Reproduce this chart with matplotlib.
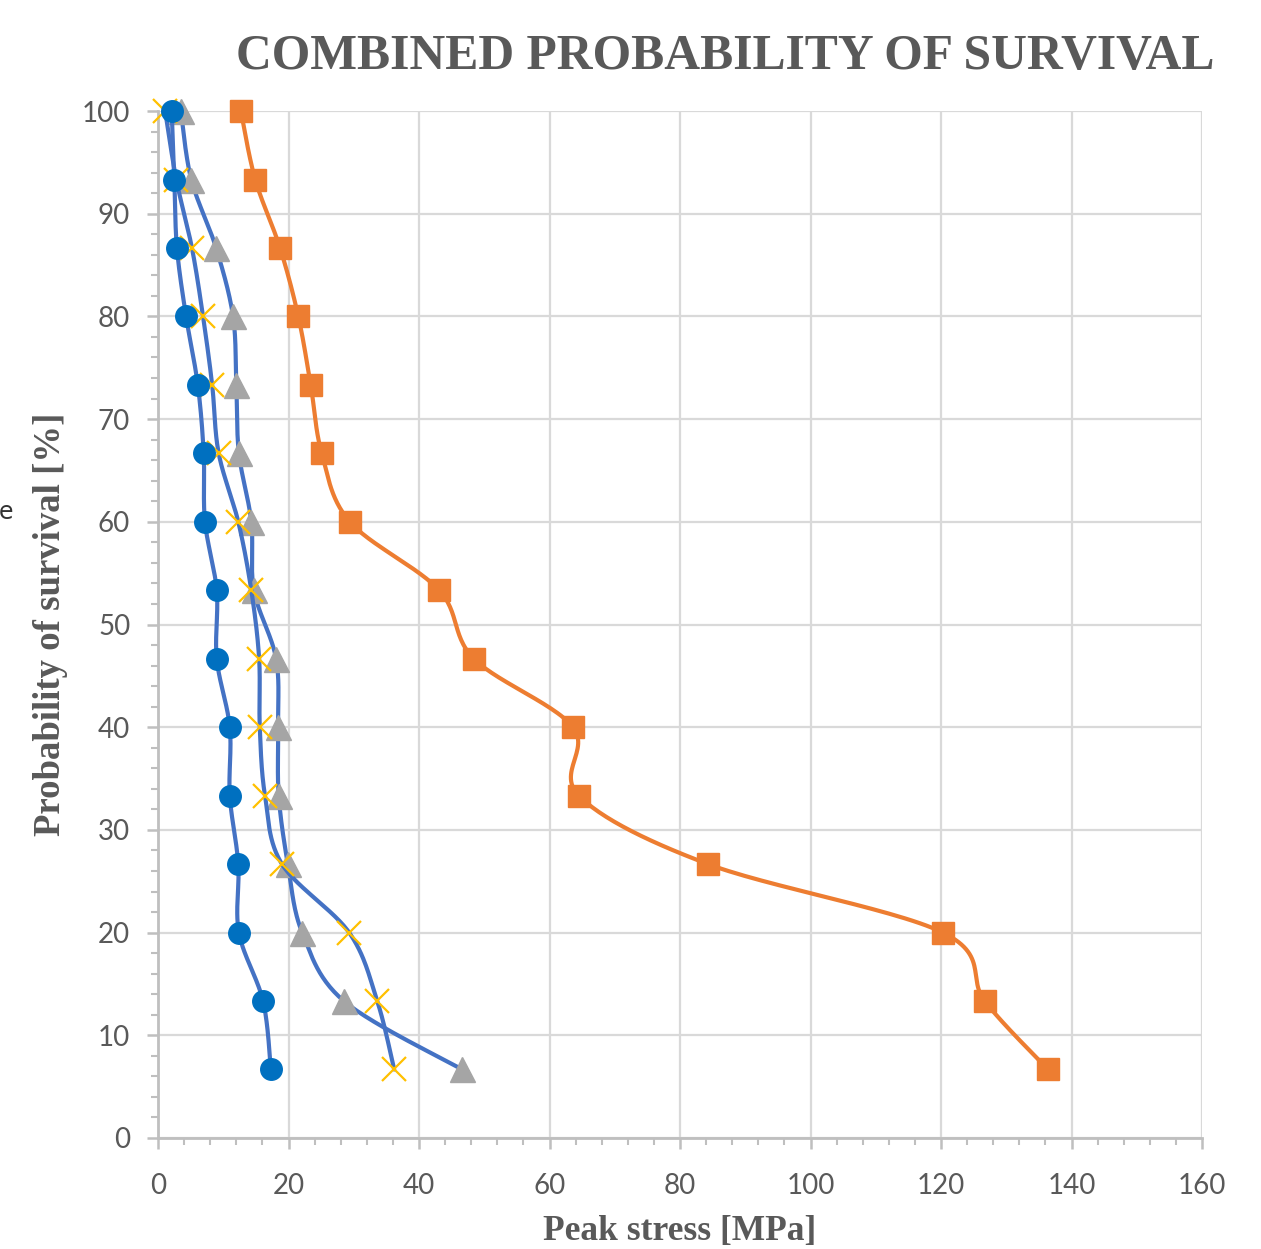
import numpy as np
import matplotlib
matplotlib.use("Agg")
import matplotlib.pyplot as plt
from matplotlib.ticker import MultipleLocator

# ---- data ----
survival = [100, 93.33, 86.67, 80, 73.33, 66.67, 60, 53.33, 46.67, 40, 33.33, 26.67, 20, 13.33, 6.67]
stress_orange = [12.7, 14.9, 18.7, 21.5, 23.4, 25.1, 29.4, 43.1, 48.4, 63.6, 64.5, 84.3, 120.3, 126.7, 136.4]
stress_circle = [2.1, 2.5, 2.9, 4.3, 6.1, 7.0, 7.2, 9.0, 9.0, 11.0, 11.0, 12.3, 12.4, 16.1, 17.3]
stress_triangle = [3.5, 5.1, 8.9, 11.5, 12.0, 12.4, 14.3, 14.7, 18.1, 18.4, 18.5, 19.9, 22.1, 28.5, 46.6]
stress_cross = [1.1, 2.8, 5.2, 6.9, 8.3, 9.3, 12.3, 14.3, 15.5, 15.6, 16.4, 19.0, 29.3, 33.6, 36.2]
x_ticks = [0, 20, 40, 60, 80, 100, 120, 140, 160]
y_ticks = [0, 10, 20, 30, 40, 50, 60, 70, 80, 90, 100]

title = "COMBINED PROBABILITY OF SURVIVAL"
xlabel = "Peak stress [MPa]"
ylabel = "Probability of survival [%]"

W, H = 1261, 1249
fig = plt.figure(figsize=(W / 100, H / 100), dpi=100)
ax = fig.add_axes([158 / W, 1 - 1138 / H, (1202 - 158) / W, (1138 - 111) / H])
ax.set_xlim(0, 160)
ax.set_ylim(0, 100)

grid_c = "#D9D9D9"
axis_c = "#BFBFBF"
text_c = "#595959"


def smooth(xs, ys, n=30):
    pts = ax.transData.transform(np.column_stack([xs, ys]))
    P = np.vstack([pts[0], pts, pts[-1]])
    out = []
    for i in range(1, len(P) - 2):
        p0, p1, p2, p3 = P[i - 1], P[i], P[i + 1], P[i + 2]
        c1 = p1 + (p2 - p0) / 6.0
        c2 = p2 - (p3 - p1) / 6.0
        t = np.linspace(0, 1, n)[:, None]
        seg = ((1 - t) ** 3) * p1 + 3 * ((1 - t) ** 2) * t * c1 + 3 * (1 - t) * t ** 2 * c2 + t ** 3 * p2
        out.append(seg if i == 1 else seg[1:])
    out = np.vstack(out)
    d = ax.transData.inverted().transform(out)
    return d[:, 0], d[:, 1]


line_blue = "#4472C4"
lw = 3.0

# orange
sx, sy = smooth(stress_orange, survival)
ax.plot(sx, sy, color="#ED7D31", lw=lw, zorder=3, solid_capstyle="round", clip_on=False)
ax.plot(stress_orange, survival, ls="none", marker="s", ms=16.5, color="#ED7D31", zorder=4,
        clip_on=False)

# triangles
sx, sy = smooth(stress_triangle, survival)
ax.plot(sx, sy, color=line_blue, lw=lw, zorder=5, solid_capstyle="round", clip_on=False)
ax.plot(stress_triangle, survival, ls="none", marker="^", ms=18, color="#A5A5A5", zorder=6,
        clip_on=False)

# crosses
sx, sy = smooth(stress_cross, survival)
ax.plot(sx, sy, color=line_blue, lw=lw, zorder=7, solid_capstyle="round", clip_on=False)
ax.plot(stress_cross, survival, ls="none", marker="x", ms=17, mew=1.6, color="#FFC000", zorder=8,
        clip_on=False)

# circles
sx, sy = smooth(stress_circle, survival)
ax.plot(sx, sy, color=line_blue, lw=lw, zorder=9, solid_capstyle="round", clip_on=False)
ax.plot(stress_circle, survival, ls="none", marker="o", ms=15.5, color="#0070C0", zorder=10,
        clip_on=False)

# axes styling
ax.set_xticks(x_ticks)
ax.set_yticks(y_ticks)
ax.xaxis.set_minor_locator(MultipleLocator(4))
ax.yaxis.set_minor_locator(MultipleLocator(2))
ax.grid(True, which="major", color=grid_c, lw=1.6, zorder=0)
ax.set_axisbelow(True)
for s in ["top", "right"]:
    ax.spines[s].set_visible(False)
for s in ["left", "bottom"]:
    ax.spines[s].set_color(axis_c)
    ax.spines[s].set_linewidth(2)
ax.tick_params(which="major", length=8, width=1.8, color=axis_c, labelcolor=text_c,
               labelsize=20)
ax.tick_params(axis="x", which="major", pad=17)
ax.tick_params(axis="y", which="major", pad=12)
ax.tick_params(which="minor", length=5, width=1.5, color=axis_c)
for lab in ax.get_xticklabels() + ax.get_yticklabels():
    lab.set_fontfamily("Lato")

ax.set_xlabel(xlabel, fontfamily="Liberation Serif", fontweight="bold", fontsize=25.5,
              color=text_c, labelpad=12)
ax.set_ylabel(ylabel, fontfamily="Liberation Serif", fontweight="bold", fontsize=26.5,
              color=text_c, labelpad=10)
fig.text(725 / W, 1 - 57 / H, title, ha="center", va="center", fontfamily="Liberation Serif",
         fontweight="bold", fontsize=35.7, color=text_c)
fig.text(-1 / W, 1 - 512 / H, "e", ha="left", va="center", fontfamily="DejaVu Sans",
         fontsize=17, color="#333333")

fig.savefig("out.png", dpi=100)
